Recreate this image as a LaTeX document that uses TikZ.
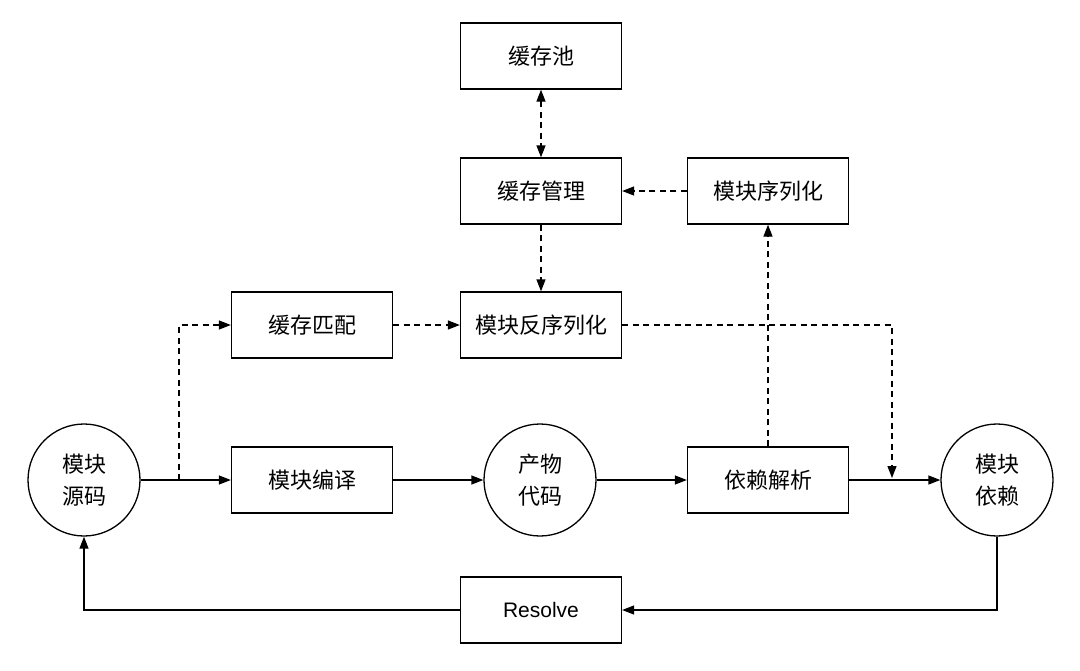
\documentclass[tikz,border=0pt]{standalone}
\usepackage{fontspec}
\setmainfont{Liberation Sans}
\newfontfamily\cjk{Noto Sans CJK SC}
\usetikzlibrary{arrows.meta}
\begin{document}
\begin{tikzpicture}[x=1pt,y=-1pt,
  box/.style={draw, line width=1.3pt, minimum width=161pt, minimum height=66pt, inner sep=0pt, font=\cjk\fontsize{22}{31}\selectfont},
  circ/.style={draw, circle, line width=1.3pt, minimum size=112pt, inner sep=0pt, align=center, font=\cjk\fontsize{22}{32}\selectfont},
  tip/.style={-{Triangle[length=12pt,width=9pt]}},
  arr/.style={line width=1.3pt, tip},
  dsh/.style={arr, dash pattern=on 6pt off 4.5pt}]
\useasboundingbox (0,0) rectangle (1080,670);
\node[box] (pool) at (541,56) {缓存池};
\node[box] (mgr) at (541,191) {缓存管理};
\node[box] (ser) at (768,191) {模块序列化};
\node[box] (match) at (312,325) {缓存匹配};
\node[box] (deser) at (541,325) {模块反序列化};
\node[circ] (src) at (84,480) {模块\\源码};
\node[box] (comp) at (312,480) {模块编译};
\node[circ] (out) at (540,480) {产物\\代码};
\node[box] (dep) at (768,480) {依赖解析};
\node[circ] (mdep) at (997,480) {模块\\依赖};
\node[box, font=\fontsize{21}{25}\selectfont] (res) at (541,610) {Resolve};
\coordinate (br) at (179,480);
\coordinate (jn) at (892,478);
\draw[dsh, {Triangle[length=12pt,width=9pt]}-{Triangle[length=12pt,width=9pt]}] (pool) -- (mgr);
\draw[dsh] (ser) -- (mgr);
\draw[dsh] (mgr) -- (deser);
\draw[dsh] (br) |- (match);
\draw[dsh] (match) -- (deser);
\draw[dsh] (deser) -| (jn);
\draw[dsh] (dep) -- (ser);
\draw[arr] (src) -- (comp);
\draw[arr] (comp) -- (out);
\draw[arr] (out) -- (dep);
\draw[arr] (dep) -- (mdep);
\draw[arr] (mdep) |- (res);
\draw[arr] (res) -| (src);
\end{tikzpicture}
\end{document}
